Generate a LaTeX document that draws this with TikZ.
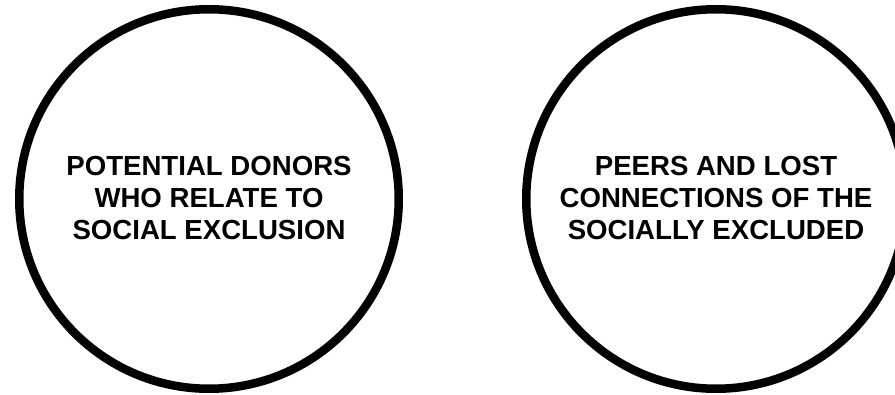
\documentclass[tikz,border=0pt]{standalone}
\usepackage{fontspec}
\setmainfont{Liberation Sans}
\begin{document}
\begin{tikzpicture}[x=1pt,y=1pt,
  ring/.style={circle, draw=black, line width=8.5pt, minimum size=379.5pt, inner sep=0pt},
  label/.style={align=center, font=\fontsize{27.6}{31.6}\selectfont\bfseries}]
  \useasboundingbox (0,0) rectangle (895,394);
  \clip (0,0) rectangle (895,394);
  \node[ring] (donors) at (209,195) {};
  \node[ring] (peers) at (716,195) {};
  \node[label] (donorsText) at (209,196) {POTENTIAL DONORS\\WHO RELATE TO\\SOCIAL EXCLUSION};
  \node[label] (peersText) at (716,196) {PEERS AND LOST\\CONNECTIONS OF THE\\SOCIALLY EXCLUDED};
\end{tikzpicture}
\end{document}
